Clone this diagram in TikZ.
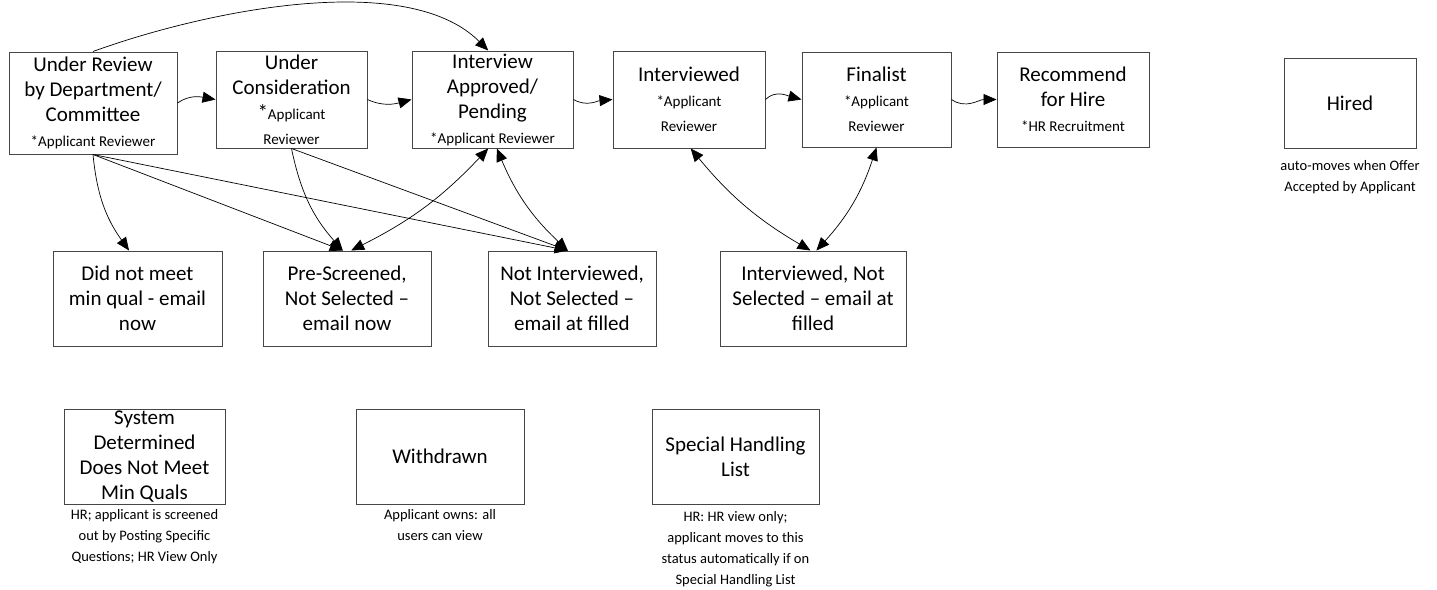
\documentclass[tikz,border=0pt]{standalone}
\usepackage{fontspec}
\setmainfont{Carlito}
\usetikzlibrary{arrows.meta,positioning}

\definecolor{boxgray}{RGB}{70,70,70}
\newcommand{\smalltag}[1]{{\fontsize{15}{25}\selectfont #1}}

\tikzset{
  box/.style={draw=boxgray, line width=1pt, align=center, inner sep=0pt,
    minimum height=95pt, font=\fontsize{21}{25}\selectfont},
  note/.style={align=center, inner sep=0pt, font=\fontsize{14.5}{21}\selectfont},
  flow/.style={-{Triangle[length=13pt,width=11pt]}, line width=0.7pt},
  twoway/.style={{Triangle[length=13pt,width=11pt]}-{Triangle[length=13pt,width=11pt]}, line width=0.7pt},
}

\begin{document}
\begin{tikzpicture}[x=1pt,y=1pt]
\useasboundingbox (0,0) rectangle (1437,-589);

% main path
\node[box, minimum width=168pt, minimum height=102pt] (ur) at (93,-103)
  {Under Review\\by Department/\\Committee\\\smalltag{*Applicant Reviewer}};
\node[box, minimum width=151pt, minimum height=97pt] (uc) at (291.5,-99.5)
  {Under\\Consideration\\*\smalltag{Applicant}\\\smalltag{Reviewer}};
\node[box, minimum width=161pt, minimum height=97pt] (ia) at (492.5,-99.5)
  {Interview\\Approved/\\Pending\\\smalltag{*Applicant Reviewer}};
\node[box, minimum width=152pt, minimum height=97pt] (iv) at (689,-99.5)
  {Interviewed\\\smalltag{*Applicant}\\\smalltag{Reviewer}};
\node[box, minimum width=149pt] (fn) at (876.5,-99.5)
  {Finalist\\\smalltag{*Applicant}\\\smalltag{Reviewer}};
\node[box, minimum width=152pt] (rh) at (1073,-99.5)
  {Recommend\\for Hire\\\smalltag{*HR Recruitment}};
\node[box, minimum width=132pt, minimum height=90pt] (hi) at (1350,-103) {Hired};
\node[note, below=12pt of hi] (hinote) {auto-moves when Offer\\Accepted by Applicant};

% not selected
\node[box, minimum width=169pt] (dn) at (137.5,-298.5) {Did not meet\\min qual - email\\now};
\node[box, minimum width=168pt] (ps) at (347,-298.5) {Pre-Screened,\\Not Selected –\\email now};
\node[box, minimum width=168pt] (ni) at (572,-298.5) {Not Interviewed,\\Not Selected –\\email at filled};
\node[box, minimum width=186pt] (in) at (813,-298.5) {Interviewed, Not\\Selected – email at\\filled};

% other statuses
\node[box, minimum width=161pt] (sd) at (144.5,-456.5) {System\\Determined\\Does Not Meet\\Min Quals};
\node[note, below=5pt of sd] (sdnote) {HR; applicant is screened\\out by Posting Specific\\Questions; HR View Only};
\node[box, minimum width=168pt] (wd) at (440,-456.5) {Withdrawn};
\node[note, below=5pt of wd] (wdnote) {Applicant owns: all\\users can view};
\node[box, minimum width=167pt] (sh) at (735.5,-456.5) {Special Handling\\List};
\node[note, below=7pt of sh] (shnote) {HR: HR view only;\\applicant moves to this\\status automatically if on\\Special Handling List};

\draw[flow] (ur.east) to[out=35,in=170] (uc.west);
\draw[flow] (uc.east) to[out=-25,in=195] (ia.west);
\draw[flow] (ia.east) to[out=-30,in=185] (iv.west);
\draw[flow] (iv.east) to[out=45,in=165] (fn.west);
\draw[flow] (fn.east) to[out=-35,in=180] (rh.west);
\draw[flow] (ur.north) to[out=20,in=135,looseness=0.75] (ia.95);

\draw[flow] (ur.south) to[bend right=15] (dn.100);
\draw[flow] (ur.south) -- (ps.95);
\draw[flow] (ur.south) -- (ni.95);
\draw[flow] (uc.south) to[bend right=15] (ps.95);
\draw[flow] (uc.south) -- (ni.95);
\draw[twoway] (ia.-95) to[bend left=10] (ps.85);
\draw[twoway] (ia.-85) to[bend right=12] (ni.95);
\draw[twoway] (iv.-88) to[bend right=10] (in.93);
\draw[twoway] (fn.south) to[bend left=12] (in.86);
\end{tikzpicture}
\end{document}
